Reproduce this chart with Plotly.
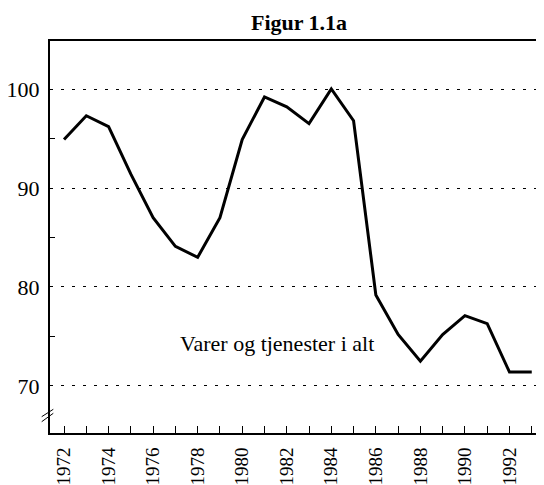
import plotly.graph_objects as go

years = list(range(1972, 1994))
values = [94.9, 97.3, 96.2, 91.4, 87.0, 84.1, 83.0, 87.0, 94.9, 99.2, 98.2,
          96.5, 100.0, 96.8, 79.2, 75.2, 72.5, 75.2, 77.1, 76.3, 71.4, 71.4]
y_ticks = [70, 80, 90, 100]
y_minor = [75, 85, 95]
x_labels = [str(y) if y % 2 == 0 else "" for y in years]
title_text = "Figur 1.1a"
series_label = "Varer og tjenester i alt"

FONT = "Liberation Serif, Times New Roman, serif"

# page body has an 8px margin, so the figure is sized/offset to compensate
fig = go.Figure()
fig.add_trace(go.Scatter(x=years, y=values, mode="lines",
                         line=dict(color="black", width=3), hoverinfo="skip"))

fig.update_layout(
    width=536, height=477,
    margin=dict(l=42, r=0, t=33, b=52, pad=0),
    paper_bgcolor="white", plot_bgcolor="white",
    showlegend=False,
    font=dict(family=FONT, size=20, color="black"),
    title=dict(text="<b>" + title_text + "</b>", x=0.543, xanchor="center",
               y=1 - 14 / 477, yanchor="middle", yref="container",
               font=dict(family=FONT, size=22, color="black")),
)
fig.update_xaxes(
    range=[1971.37, 1993.55], automargin=False,
    tickmode="array", tickvals=years, ticktext=x_labels,
    ticks="inside", ticklen=7, tickwidth=1, tickcolor="black",
    tickangle=-90, showgrid=False, zeroline=False,
    showline=True, linecolor="black", linewidth=2, mirror=True,
    tickfont=dict(family=FONT, size=19),
    ticklabelstandoff=5,
)
fig.update_yaxes(
    range=[65.25, 104.85], automargin=False,
    tickmode="array", tickvals=y_ticks,
    ticks="", showgrid=True, gridcolor="black", gridwidth=1,
    griddash="3px,8px", zeroline=False,
    showline=True, linecolor="black", linewidth=2,
    minor=dict(tickmode="array", tickvals=y_minor, ticks="inside",
               ticklen=5, tickwidth=1, tickcolor="black", showgrid=False),
    tickfont=dict(family=FONT, size=22),
    ticklabelstandoff=4,
)
fig.add_annotation(x=1977.12, y=74.34, xref="x", yref="y", text=series_label,
                   showarrow=False, xanchor="left", yanchor="middle",
                   font=dict(family=FONT, size=22, color="black"))
# axis-break mark
fig.add_shape(type="line", xref="paper", yref="paper",
              x0=-0.0168, y0=0.0288, x1=0.0067, y1=0.0503,
              line=dict(color="black", width=1))
fig.add_shape(type="line", xref="paper", yref="paper",
              x0=-0.0168, y0=0.0416, x1=0.0067, y1=0.0605,
              line=dict(color="black", width=1))

fig.write_html("out.html")
